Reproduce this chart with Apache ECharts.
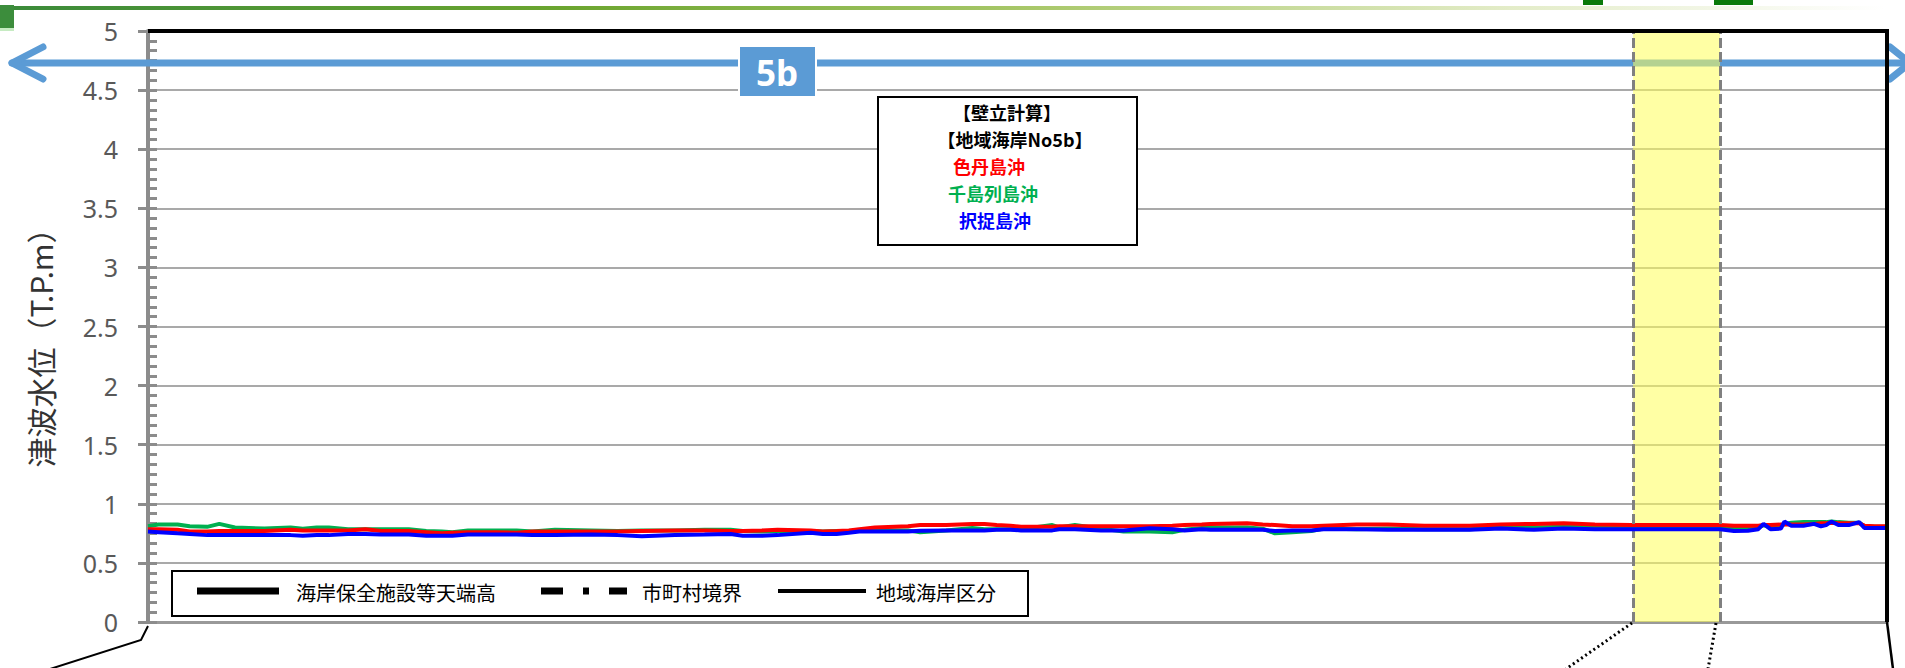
<!DOCTYPE html>
<html>
<head>
<meta charset="utf-8">
<script src="https://cdn.jsdelivr.net/npm/echarts@6/dist/echarts.min.js"></script>
<style>
html,body{margin:0;padding:0;background:#fff;}
#chart{width:1905px;height:668px;}
</style>
</head>
<body>
<div id="chart"></div>
<script>
// ---- data (distance along coast: 0..1000, value: T.P.m) ----
const xPos = [
  0, 6, 17, 24, 34, 41, 50, 67, 82, 89,
  97, 104, 115, 125, 134, 150, 160, 169, 175, 184,
  200, 212, 221, 234, 255, 270, 284, 303, 320, 335,
  342, 353, 362, 381, 388, 396, 403, 409, 418, 437,
  444, 459, 474, 481, 488, 496, 502, 520, 524, 533,
  548, 561, 576, 589, 596, 606, 611, 632, 641, 648,
  658, 669, 676, 695, 713, 734, 760, 778, 797, 814,
  832, 853, 880, 904, 912, 920, 926, 929, 933, 939,
  941, 945, 952, 958, 962, 965, 968, 972, 978, 984,
  987, 993, 1000
];
const shikotan = [ // 色丹島沖 (red)
  0.785,0.785,0.78,0.765,0.765,0.77,0.77,0.77,0.78,0.775,
  0.775,0.775,0.775,0.785,0.77,0.77,0.76,0.75,0.755,0.76,
  0.76,0.755,0.765,0.765,0.765,0.765,0.77,0.775,0.775,0.77,
  0.77,0.775,0.78,0.775,0.765,0.77,0.775,0.785,0.80,0.81,
  0.82,0.82,0.83,0.83,0.82,0.815,0.805,0.805,0.81,0.81,
  0.81,0.81,0.81,0.815,0.82,0.825,0.83,0.835,0.825,0.82,
  0.81,0.81,0.815,0.825,0.825,0.815,0.815,0.825,0.83,0.835,
  0.825,0.82,0.82,0.82,0.815,0.815,0.815,0.82,0.82,0.825,
  0.825,0.825,0.825,0.83,0.835,0.835,0.84,0.835,0.835,0.835,
  0.815,0.81,0.81
];
const kuril = [ // 千島列島沖 (green)
  0.81,0.825,0.825,0.81,0.805,0.83,0.80,0.79,0.80,0.79,
  0.80,0.80,0.785,0.785,0.785,0.785,0.77,0.765,0.76,0.775,
  0.775,0.775,0.765,0.78,0.775,0.77,0.775,0.775,0.78,0.78,
  0.77,0.765,0.77,0.77,0.765,0.77,0.77,0.775,0.775,0.775,
  0.76,0.775,0.795,0.785,0.785,0.785,0.785,0.82,0.80,0.82,
  0.79,0.765,0.765,0.76,0.78,0.795,0.80,0.80,0.79,0.75,
  0.76,0.77,0.79,0.785,0.79,0.785,0.785,0.80,0.80,0.805,
  0.80,0.805,0.80,0.80,0.795,0.795,0.80,0.82,0.80,0.81,
  0.83,0.84,0.845,0.845,0.845,0.845,0.85,0.845,0.84,0.84,
  0.81,0.805,0.805
];
const etorofu = [ // 択捉島沖 (blue)
  0.765,0.76,0.75,0.745,0.735,0.735,0.735,0.735,0.735,0.73,
  0.735,0.735,0.745,0.745,0.74,0.74,0.73,0.73,0.73,0.74,
  0.74,0.74,0.735,0.735,0.74,0.735,0.725,0.735,0.74,0.745,
  0.73,0.73,0.735,0.755,0.745,0.745,0.755,0.765,0.765,0.765,
  0.772,0.775,0.775,0.775,0.78,0.78,0.775,0.775,0.785,0.785,
  0.775,0.775,0.793,0.785,0.775,0.785,0.78,0.78,0.78,0.77,
  0.775,0.775,0.785,0.785,0.78,0.78,0.78,0.79,0.78,0.79,
  0.785,0.785,0.785,0.785,0.77,0.772,0.785,0.83,0.785,0.79,
  0.85,0.815,0.815,0.83,0.81,0.82,0.85,0.82,0.82,0.845,
  0.795,0.795,0.795
];
const bandRange = [854, 904];
const seriesNames = ['千島列島沖', '色丹島沖', '択捉島沖'];
const yAxisName = '津波水位（T.P.m）';
const noteLines = ['【壁立計算】', '【地域海岸No5b】', '色丹島沖', '千島列島沖', '択捉島沖'];
const legendLabels = ['海岸保全施設等天端高', '市町村境界', '地域海岸区分'];
const sectionLabel = '5b';

const pair = arr => xPos.map((x, i) => [x, arr[i]]);
const CJK = '"Noto Sans CJK JP", "Noto Sans", sans-serif';

const chart = echarts.init(document.getElementById('chart'), null, {renderer: 'svg'});

const grey = '#8c8c8c';
const noteFont = 'bold 18px ' + CJK;
const option = {
  animation: false,
  backgroundColor: '#fff',
  grid: {left: 148, right: 18, top: 31, bottom: 46, containLabel: false},
  xAxis: [{
    type: 'value', min: 0, max: 1000,
    axisLine: {show: true, lineStyle: {color: '#999', width: 3}},
    axisTick: {show: false}, axisLabel: {show: false}, splitLine: {show: false}
  }],
  yAxis: [{
    type: 'value', min: 0, max: 5, interval: 0.5,
    name: yAxisName, nameLocation: 'middle', nameRotate: 90, nameGap: 93,
    nameTextStyle: {fontFamily: CJK, fontSize: 30, color: '#333', padding: [0, 28, 0, 0]},
    axisLine: {show: true, lineStyle: {color: grey, width: 4}},
    axisTick: {show: true, inside: false, length: 10, lineStyle: {color: grey, width: 3}},
    axisLabel: {margin: 30, fontSize: 25, color: '#595959', fontFamily: '"Noto Sans", sans-serif'},
    splitLine: {show: true, lineStyle: {color: grey, width: 1.5}}
  }, {
    type: 'value', min: 0, max: 5, interval: 0.5, position: 'left',
    axisLine: {show: false},
    axisTick: {show: true, inside: true, length: 9, lineStyle: {color: grey, width: 3}},
    minorTick: {show: true, splitNumber: 6, length: 9, lineStyle: {color: grey, width: 3}},
    axisLabel: {show: false}, splitLine: {show: false}
  }],
  series: [
    {name: seriesNames[0], type: 'line', data: pair(kuril), showSymbol: false, symbol: 'none',
     lineStyle: {color: '#00B050', width: 4}, z: 3},
    {name: seriesNames[1], type: 'line', data: pair(shikotan), showSymbol: false, symbol: 'none',
     lineStyle: {color: '#FF0000', width: 4}, z: 4},
    {name: seriesNames[2], type: 'line', data: pair(etorofu), showSymbol: false, symbol: 'none',
     lineStyle: {color: '#0000FF', width: 4}, z: 5},
    {name: 'band', type: 'line', data: [], z: 10, silent: true,
     markArea: {silent: true, itemStyle: {color: 'rgba(255,255,90,0.55)'},
       data: [[{xAxis: bandRange[0]}, {xAxis: bandRange[1]}]]},
     markLine: {silent: true, symbol: 'none', label: {show: false},
       lineStyle: {color: '#808080', width: 3, type: [10, 4]},
       data: [{xAxis: bandRange[0]}, {xAxis: bandRange[1]}]}
    }
  ],
  graphic: [
    // top decoration
    {type: 'rect', z: 30, shape: {x: 0, y: 6, width: 1885, height: 4},
     style: {fill: new echarts.graphic.LinearGradient(0, 0, 1, 0, [
       {offset: 0, color: '#3A8A3A'}, {offset: 0.3, color: '#6BA52F'},
       {offset: 0.55, color: '#A9C86A'}, {offset: 0.8, color: '#E3ECC8'}, {offset: 1, color: '#FFFFFF'}])}},
    {type: 'rect', z: 30, shape: {x: 0, y: 5, width: 14, height: 23}, style: {fill: '#3C8D3C'}},
    {type: 'rect', z: 30, shape: {x: 0, y: 28, width: 14, height: 3}, style: {fill: '#C6EBC2'}},
    {type: 'rect', z: 30, shape: {x: 1583, y: 0, width: 20, height: 5}, style: {fill: '#0A7A0A'}},
    {type: 'rect', z: 30, shape: {x: 1714, y: 0, width: 39, height: 5}, style: {fill: '#0A7A0A'}},
    // frame top & right
    {type: 'line', z: 30, shape: {x1: 148, y1: 31, x2: 1888, y2: 31}, style: {stroke: '#000', lineWidth: 4}},
    {type: 'line', z: 30, shape: {x1: 1887, y1: 29, x2: 1887, y2: 622}, style: {stroke: '#000', lineWidth: 4}},
    // blue double arrow
    {type: 'line', z: 1, shape: {x1: 12, y1: 63, x2: 1908, y2: 63},
     style: {stroke: '#5B9BD5', lineWidth: 7, lineCap: 'round'}},
    {type: 'polyline', z: 1, shape: {points: [[43, 47], [12, 63], [43, 79]]},
     style: {stroke: '#5B9BD5', lineWidth: 7, lineCap: 'round', lineJoin: 'round', fill: null}},
    {type: 'polyline', z: 1, shape: {points: [[1890, 47], [1910, 63], [1890, 79]]},
     style: {stroke: '#5B9BD5', lineWidth: 7, lineCap: 'round', lineJoin: 'round', fill: null}},
    // 5b label
    {type: 'rect', z: 30, shape: {x: 739, y: 46, width: 77, height: 51},
     style: {fill: '#5B9BD5', stroke: '#fff', lineWidth: 2}},
    {type: 'text', z: 31, x: 777, y: 72,
     style: {text: sectionLabel, fill: '#fff', font: 'bold 35px "Noto Sans", sans-serif',
       textAlign: 'center', textVerticalAlign: 'middle'}},
    // annotation box
    {type: 'rect', z: 30, shape: {x: 878, y: 97, width: 259, height: 148},
     style: {fill: '#fff', stroke: '#000', lineWidth: 2}},
    {type: 'text', z: 31, x: 1007, y: 112, style: {text: noteLines[0], fill: '#000',
      font: noteFont, textAlign: 'center', textVerticalAlign: 'middle'}},
    {type: 'text', z: 31, x: 1015, y: 139, style: {text: noteLines[1], fill: '#000',
      font: noteFont, textAlign: 'center', textVerticalAlign: 'middle'}},
    {type: 'text', z: 31, x: 989, y: 166, style: {text: noteLines[2], fill: '#FF0000',
      font: noteFont, textAlign: 'center', textVerticalAlign: 'middle'}},
    {type: 'text', z: 31, x: 993, y: 193, style: {text: noteLines[3], fill: '#00B050',
      font: noteFont, textAlign: 'center', textVerticalAlign: 'middle'}},
    {type: 'text', z: 31, x: 995, y: 220, style: {text: noteLines[4], fill: '#0000FF',
      font: noteFont, textAlign: 'center', textVerticalAlign: 'middle'}},
    // legend box
    {type: 'rect', z: 30, shape: {x: 172, y: 571, width: 856, height: 45},
     style: {fill: '#fff', stroke: '#000', lineWidth: 2}},
    {type: 'line', z: 31, shape: {x1: 197, y1: 591, x2: 279, y2: 591}, style: {stroke: '#000', lineWidth: 7}},
    {type: 'text', z: 31, x: 296, y: 592, style: {text: legendLabels[0], fill: '#000',
      font: '20px ' + CJK, textAlign: 'left', textVerticalAlign: 'middle'}},
    {type: 'line', z: 31, shape: {x1: 541, y1: 591, x2: 627, y2: 591},
     style: {stroke: '#000', lineWidth: 7, lineDash: [22, 20, 6, 20]}},
    {type: 'text', z: 31, x: 642, y: 592, style: {text: legendLabels[1], fill: '#000',
      font: '20px ' + CJK, textAlign: 'left', textVerticalAlign: 'middle'}},
    {type: 'line', z: 31, shape: {x1: 778, y1: 591, x2: 866, y2: 591}, style: {stroke: '#000', lineWidth: 4}},
    {type: 'text', z: 31, x: 876, y: 592, style: {text: legendLabels[2], fill: '#000',
      font: '20px ' + CJK, textAlign: 'left', textVerticalAlign: 'middle'}},
    // connector lines below the chart
    {type: 'polyline', z: 30, shape: {points: [[148, 626], [141, 640], [50, 669]]},
     style: {stroke: '#000', lineWidth: 2, fill: null}},
    {type: 'line', z: 30, shape: {x1: 1632, y1: 623, x2: 1566, y2: 669},
     style: {stroke: '#000', lineWidth: 3, lineDash: [2, 3]}},
    {type: 'line', z: 30, shape: {x1: 1716, y1: 623, x2: 1708, y2: 669},
     style: {stroke: '#000', lineWidth: 3, lineDash: [2, 3]}},
    {type: 'line', z: 30, shape: {x1: 1887, y1: 622, x2: 1893, y2: 669},
     style: {stroke: '#000', lineWidth: 2.5}}
  ]
};
chart.setOption(option);
</script>
</body>
</html>
